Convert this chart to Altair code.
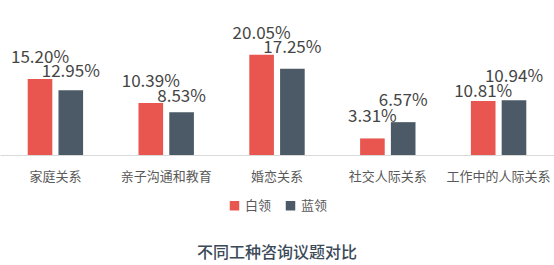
import altair as alt
import pandas as pd

categories = ["家庭关系", "亲子沟通和教育", "婚恋关系", "社交人际关系", "工作中的人际关系"]
series = ["白领", "蓝领"]
white_collar = [15.20, 10.39, 20.05, 3.31, 10.81]
blue_collar = [12.95, 8.53, 17.25, 6.57, 10.94]
colors = ["#e8564f", "#4b5a66"]

# label gap above bar (px); a few labels were nudged in the original to reduce overlap
default_gap = 16
label_gap = {("亲子沟通和教育", "蓝领"): 10, ("工作中的人际关系", "白领"): 4,
             ("工作中的人际关系", "蓝领"): 18, ("家庭关系", "蓝领"): 13}

rows = []
for c, w, b in zip(categories, white_collar, blue_collar):
    for s, v in (("白领", w), ("蓝领", b)):
        rows.append({"cat": c, "s": s, "v": v, "lbl": f"{v:.2f}%",
                     "gap": label_gap.get((c, s), default_gap)})
df = pd.DataFrame(rows)

FONT = "Noto Sans CJK SC"

x = alt.X("cat:N", sort=categories, title=None,
          scale=alt.Scale(paddingInner=0.5, paddingOuter=0.25),
          axis=alt.Axis(labelAngle=0, labelFontSize=13, labelColor="#595959",
                        labelFont=FONT, ticks=False, labelPadding=15,
                        domainColor="#d9d9d9", domainWidth=1))
xo = alt.XOffset("s:N", sort=series, scale=alt.Scale(paddingInner=0.2))
y = alt.Y("v:Q", scale=alt.Scale(domain=[0, 31]), axis=None)

bars = alt.Chart(df).mark_bar().encode(
    x=x, xOffset=xo, y=y,
    color=alt.Color("s:N", sort=series, scale=alt.Scale(domain=series, range=colors),
                    legend=alt.Legend(title=None, orient="none", legendX=228, legendY=199,
                                      direction="horizontal", symbolType="square",
                                      symbolSize=90, symbolStrokeWidth=0,
                                      labelFontSize=13, labelColor="#595959", labelFont=FONT,
                                      columnPadding=12, symbolOffset=0)),
)

labels = alt.Chart(df).transform_calculate(
    ypix="155 - datum.v * 155 / 31 - datum.gap"
).mark_text(baseline="alphabetic", fontSize=17, color="#454545", font=FONT).encode(
    x=x, xOffset=xo,
    y=alt.Y("ypix:Q", scale=None),
    text="lbl:N",
)

chart = alt.layer(bars, labels).properties(
    width=554, height=155,
    title=alt.TitleParams("不同工种咨询议题对比", orient="bottom", anchor="middle",
                          fontSize=16, font=FONT, fontWeight=500, color="#3b4a58",
                          offset=32),
    padding={"left": 0, "right": 0, "top": 0, "bottom": 110},
    autosize=alt.AutoSizeParams(type="none"),
).configure_view(stroke=None)

chart.save("out.html", embed_options={"renderer": "svg", "actions": False})
